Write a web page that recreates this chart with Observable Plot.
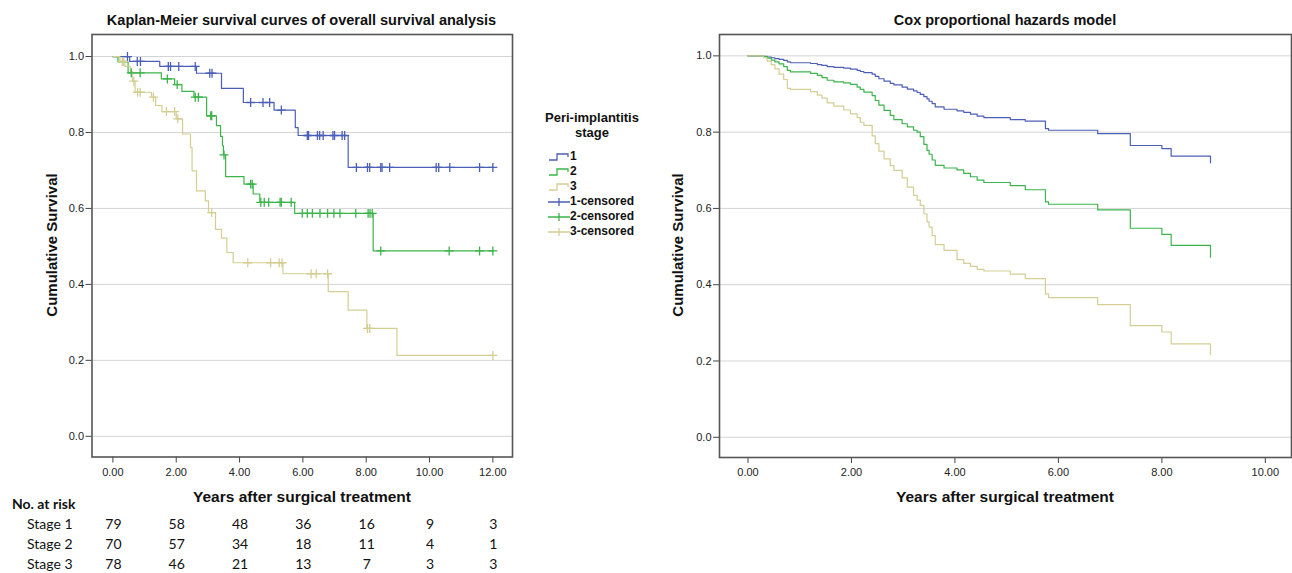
<!DOCTYPE html>
<html>
<head>
<meta charset="utf-8">
<script src="https://cdn.jsdelivr.net/npm/d3@7"></script>
<script src="https://cdn.jsdelivr.net/npm/@observablehq/plot@0.6"></script>
<style>
  html, body { margin: 0; padding: 0; background: #fff; }
  #root { position: relative; width: 1292px; height: 573px; overflow: hidden; background: #fff;
          font-family: "Liberation Sans", Arial, sans-serif; color: #111; }
  .abs { position: absolute; }
  .title { font-weight: bold; font-size: 14.5px; text-align: center; line-height: 16px; white-space: nowrap; }
  .xlab { font-weight: bold; font-size: 15.5px; white-space: nowrap; transform: translate(-50%, -50%); }
  .ylab { font-weight: bold; font-size: 15px; white-space: nowrap; transform: translate(-50%, -50%) rotate(-90deg); }
  .leg { font-weight: bold; font-size: 12px; white-space: nowrap; line-height: 14px; }
  .tbl { font-family: Lato, "Open Sans", sans-serif; font-size: 14px; white-space: nowrap; line-height: 16px; color: #111; }
</style>
</head>
<body>
<div id="root"></div>
<script>
// ---------- data ----------
const stageNames = ["1", "2", "3"];
const stageColors = ["#4c5fb6", "#3cb44b", "#d4ce93"];
const yTicks = [0, 0.2, 0.4, 0.6, 0.8, 1.0];
const xTicksKM = [0, 2, 4, 6, 8, 10, 12];
const xTicksCox = [0, 2, 4, 6, 8, 10];

// Kaplan-Meier step points (years, survival)
const km1Time = [0, 0.53, 1.48, 2.64, 3.43, 4.12, 5.09, 5.76, 5.85, 7.43, 12.02];
const km1Surv = [1, 0.987, 0.974, 0.956, 0.916, 0.879, 0.859, 0.813, 0.792, 0.708, 0.708];
const km1Censor = [0.46, 0.77, 0.87, 1.75, 1.82, 2.08, 2.60, 3.06, 3.13, 4.35, 4.74, 4.95, 5.32, 6.14, 6.18, 6.46, 6.53, 6.64, 6.95, 7.00, 7.24, 7.32, 7.69, 8.04, 8.11, 8.46, 8.50, 8.74, 10.21, 10.29, 10.64, 11.58, 12.00];

const km2Time = [0, 0.16, 0.48, 1.53, 1.95, 2.18, 2.56, 2.96, 3.27, 3.40, 3.46, 3.49, 3.56, 4.14, 4.43, 4.64, 5.74, 8.22, 12.02];
const km2Surv = [1, 0.986, 0.957, 0.941, 0.926, 0.908, 0.893, 0.844, 0.818, 0.790, 0.765, 0.741, 0.684, 0.664, 0.638, 0.616, 0.587, 0.488, 0.488];
const km2Censor = [0.58, 0.86, 1.72, 2.03, 2.60, 2.70, 3.09, 3.12, 3.51, 4.35, 4.40, 4.67, 4.78, 4.92, 5.28, 5.32, 5.63, 5.98, 6.14, 6.30, 6.54, 6.78, 6.98, 7.17, 7.67, 8.06, 8.12, 8.19, 8.46, 10.62, 11.58, 12.00];

const km3Time = [0, 0.22, 0.38, 0.55, 0.62, 0.70, 1.22, 1.35, 1.55, 2.00, 2.20, 2.45, 2.50, 2.64, 2.92, 3.02, 3.24, 3.43, 3.60, 3.80, 5.37, 6.80, 7.43, 8.02, 8.97, 12.02];
const km3Surv = [1, 0.987, 0.974, 0.961, 0.935, 0.906, 0.893, 0.871, 0.855, 0.836, 0.796, 0.761, 0.699, 0.646, 0.620, 0.589, 0.545, 0.522, 0.484, 0.457, 0.428, 0.381, 0.332, 0.284, 0.213, 0.213];
const km3Censor = [0.30, 0.34, 0.66, 0.78, 0.86, 1.28, 1.69, 1.95, 2.05, 3.12, 4.26, 4.98, 5.25, 5.34, 6.26, 6.42, 6.78, 8.04, 8.11, 12.00];

// Cox model step points (shared event times)
const coxTime = [0, 0.30, 0.37, 0.45, 0.52, 0.60, 0.69, 0.76, 0.82, 1.21, 1.34, 1.43, 1.53, 1.66, 1.85, 1.98, 2.11, 2.17, 2.24, 2.40, 2.46, 2.53, 2.63, 2.75, 2.82, 2.98, 3.08, 3.20, 3.27, 3.33, 3.40, 3.46, 3.50, 3.56, 3.62, 3.79, 4.04, 4.17, 4.30, 4.43, 4.56, 5.07, 5.36, 5.75, 5.81, 6.76, 7.39, 8.00, 8.18, 8.94];
const coxSurv1 = [1, 0.999, 0.997, 0.995, 0.993, 0.991, 0.988, 0.984, 0.982, 0.980, 0.977, 0.975, 0.972, 0.970, 0.968, 0.965, 0.962, 0.959, 0.956, 0.952, 0.946, 0.940, 0.934, 0.928, 0.924, 0.918, 0.913, 0.908, 0.904, 0.899, 0.893, 0.887, 0.881, 0.875, 0.866, 0.860, 0.856, 0.852, 0.847, 0.842, 0.838, 0.833, 0.829, 0.809, 0.805, 0.796, 0.765, 0.757, 0.737, 0.720];
const coxSurv2 = [1, 0.998, 0.994, 0.989, 0.984, 0.979, 0.972, 0.962, 0.958, 0.954, 0.949, 0.943, 0.936, 0.932, 0.929, 0.925, 0.918, 0.912, 0.905, 0.896, 0.883, 0.871, 0.857, 0.844, 0.833, 0.822, 0.814, 0.805, 0.800, 0.788, 0.768, 0.752, 0.742, 0.727, 0.713, 0.706, 0.701, 0.692, 0.683, 0.674, 0.668, 0.660, 0.649, 0.617, 0.611, 0.596, 0.548, 0.532, 0.503, 0.472];
const coxSurv3 = [1, 0.995, 0.986, 0.977, 0.966, 0.952, 0.938, 0.915, 0.912, 0.906, 0.897, 0.889, 0.877, 0.868, 0.858, 0.848, 0.838, 0.826, 0.818, 0.790, 0.770, 0.750, 0.730, 0.712, 0.700, 0.680, 0.656, 0.634, 0.622, 0.608, 0.586, 0.565, 0.551, 0.529, 0.505, 0.490, 0.466, 0.456, 0.448, 0.440, 0.436, 0.428, 0.416, 0.376, 0.366, 0.348, 0.293, 0.276, 0.245, 0.217];

// Number at risk table
const riskYears = [0, 2, 4, 6, 8, 10, 12];
const riskRows = ["Stage 1", "Stage 2", "Stage 3"];
const risk1 = [79, 58, 48, 36, 16, 9, 3];
const risk2 = [70, 57, 34, 18, 11, 4, 1];
const risk3 = [78, 46, 21, 13, 7, 3, 3];

const legendItems = ["1", "2", "3", "1-censored", "2-censored", "3-censored"];

// ---------- build tables ----------
const kmSets = [[km1Time, km1Surv, km1Censor], [km2Time, km2Surv, km2Censor], [km3Time, km3Surv, km3Censor]];
const kmLines = [], kmCensors = [];
kmSets.forEach(([T, S, C], k) => {
  T.forEach((t, i) => kmLines.push({stage: stageNames[k], t, s: S[i]}));
  C.forEach(c => {
    let s = S[0];
    for (let i = 0; i < T.length; i++) if (T[i] <= c) s = S[i];
    kmCensors.push({stage: stageNames[k], t: c, s});
  });
});
const coxLines = [];
[coxSurv1, coxSurv2, coxSurv3].forEach((S, k) => coxTime.forEach((t, i) => coxLines.push({stage: stageNames[k], t, s: S[i]})));

const root = document.getElementById("root");
const fmt1 = d3.format(".1f"), fmt2 = d3.format(".2f");
const plotStyle = {fontFamily: '"Liberation Sans", Arial, sans-serif', fontSize: "11px", color: "#222", background: "transparent", overflow: "visible"};
const colorScale = {domain: stageNames, range: stageColors};

function place(el, left, top) { el.style.position = "absolute"; el.style.left = left + "px"; el.style.top = top + "px"; root.appendChild(el); }
function div(cls, html, left, top) { const d = document.createElement("div"); d.className = "abs " + cls; d.innerHTML = html; d.style.left = left + "px"; d.style.top = top + "px"; root.appendChild(d); return d; }

// ---------- left: Kaplan-Meier ----------
const kmXDomain = [-0.66, 12.62];
const left = Plot.plot({
  width: 530, height: 482, marginLeft: 91.5, marginRight: 18, marginTop: 34, marginBottom: 25.5,
  style: plotStyle,
  x: {domain: kmXDomain}, y: {domain: [-0.0545, 1.058]}, color: colorScale,
  marks: [
    Plot.gridY(yTicks, {stroke: "#d4d4d4", strokeOpacity: 1, strokeWidth: 1}),
    Plot.axisY(yTicks, {tickSize: 6, tickPadding: 2, tickFormat: fmt1, label: null, stroke: "#444"}),
    Plot.axisX(xTicksKM, {tickSize: 6, tickPadding: 5, tickFormat: fmt2, label: null, stroke: "#444"}),
    Plot.line(kmLines, {x: "t", y: "s", z: "stage", stroke: "stage", curve: "step-after", strokeWidth: 1.2}),
    Plot.dot(kmCensors, {x: "t", y: "s", stroke: "stage", symbol: "plus", r: 3, strokeWidth: 1.3}),
    Plot.frame({stroke: "#555", strokeWidth: 1.6})
  ]
});
place(left, 0, 0);
div("title", "Kaplan-Meier survival curves of overall survival analysis", 91.5, 12).style.width = "420px";
div("xlab", "Years after surgical treatment", 302, 497);
div("ylab", "Cumulative Survival", 51, 245);

// legend
const lt = div("title", "Peri-implantitis<br>stage", 532, 110);
lt.style.width = "120px"; lt.style.fontSize = "13px"; lt.style.lineHeight = "15px";
legendItems.forEach((name, i) => {
  const col = stageColors[i % 3];
  const isCens = i >= 3;
  const icon = isCens
    ? `<svg width="22" height="12" style="vertical-align:middle"><path d="M0,6H22M11,2V10" stroke="${col}" stroke-width="1.3" fill="none"/></svg>`
    : `<svg width="22" height="12" style="vertical-align:middle"><path d="M1,9H9V3H20V6" stroke="${col}" stroke-width="1.3" fill="none"/></svg>`;
  div("leg", `<span style="display:inline-block;width:22px">${icon}</span>${name}`, 548, 149 + i * 15);
});

// number at risk
const riskX = d3.scaleLinear().domain(kmXDomain).range([91.5, 512]);
div("tbl", "<b>No. at risk</b>", 12, 496);
[risk1, risk2, risk3].forEach((vals, r) => {
  div("tbl", riskRows[r], 27, 516 + r * 20);
  vals.forEach((v, j) => {
    const d = div("tbl", String(v), riskX(riskYears[j]) + 1, 516 + r * 20);
    d.style.transform = "translateX(-50%)";
  });
});

// ---------- right: Cox model ----------
const right = Plot.plot({
  width: 652, height: 482, marginLeft: 79, marginRight: 1, marginTop: 34, marginBottom: 25,
  style: plotStyle,
  x: {domain: [-0.551, 10.506]}, y: {domain: [-0.053, 1.056]}, color: colorScale,
  marks: [
    Plot.gridY(yTicks, {stroke: "#d4d4d4", strokeOpacity: 1, strokeWidth: 1}),
    Plot.axisY(yTicks, {tickSize: 6, tickPadding: 2, tickFormat: fmt1, label: null, stroke: "#444"}),
    Plot.axisX(xTicksCox, {tickSize: 6, tickPadding: 5, tickFormat: fmt2, label: null, stroke: "#444"}),
    Plot.line(coxLines, {x: "t", y: "s", z: "stage", stroke: "stage", curve: "step-after", strokeWidth: 1.2}),
    Plot.frame({stroke: "#555", strokeWidth: 1.6})
  ]
});
place(right, 640, 0);
div("title", "Cox proportional hazards model", 719, 12).style.width = "572px";
div("xlab", "Years after surgical treatment", 1005, 497);
div("ylab", "Cumulative Survival", 677, 245);
</script>
</body>
</html>
